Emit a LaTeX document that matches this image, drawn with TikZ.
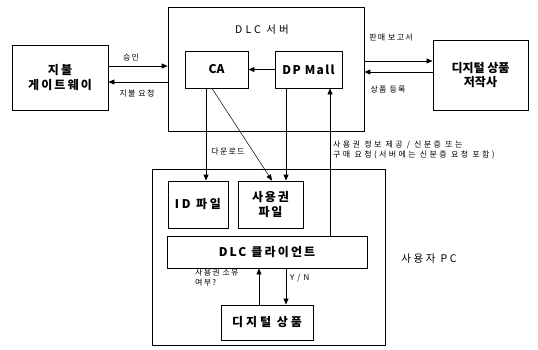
\documentclass[tikz,border=0pt]{standalone}
\usepackage{fontspec}
\setmainfont{Noto Sans CJK KR}
\usetikzlibrary{arrows.meta}
\newcommand{\lsp}[1]{\addfontfeature{LetterSpace=#1}}
\tikzset{
  box/.style={draw, line width=0.9pt, inner sep=0pt, align=center, font=\fontsize{12}{14.5}\selectfont\bfseries},
  frame/.style={draw, line width=0.7pt, inner sep=0pt},
  arr/.style={line width=0.8pt, -{Triangle[length=6pt,width=5pt]}},
  thinarr/.style={line width=0.5pt, -{Triangle[length=6pt,width=5pt]}},
  lbl/.style={inner sep=0pt, font=\fontsize{8}{10}\selectfont\lsp{15}},
}
\begin{document}
\begin{tikzpicture}[x=1pt,y=-1pt]
\useasboundingbox (0,0) rectangle (538,349);
% frames
\node[frame, minimum width=196, minimum height=124] (srv) at (266,69) {};
\node[frame, minimum width=233, minimum height=176] (pc) at (268.5,257) {};
\node[inner sep=0pt, font=\fontsize{10.5}{12}\selectfont\lsp{30}] (srvl) at (262,30) {DLC 서버};
\node[inner sep=0pt, font=\fontsize{10.5}{12}\selectfont\lsp{25}] (pcl) at (429,259) {사용자 PC};
% boxes
\node[box, minimum width=96, minimum height=65, font=\fontsize{12}{14.5}\selectfont\bfseries\lsp{18}] (gw) at (60,77.5) {지불\\게이트웨이};
\node[box, minimum width=63, minimum height=37] (ca) at (216.5,69.5) {CA};
\node[box, minimum width=67, minimum height=37, font=\fontsize{12}{14.5}\selectfont\bfseries\lsp{11}] (dp) at (308.5,69.5) {DP Mall};
\node[box, minimum width=95, minimum height=70] (au) at (480.5,75) {디지털 상품\\저작사};
\node[box, minimum width=60, minimum height=47, font=\fontsize{12}{14.5}\selectfont\bfseries\lsp{23}] (id) at (198,204.5) {ID 파일};
\node[box, minimum width=65, minimum height=47, font=\fontsize{12}{14.5}\selectfont\bfseries\lsp{16}] (lic) at (270.5,204.5) {사용권\\파일};
\node[box, minimum width=200, minimum height=32, font=\fontsize{12}{14.5}\selectfont\bfseries\lsp{18}] (cl) at (267,252) {DLC 클라이언트};
\node[box, minimum width=92, minimum height=35, font=\fontsize{12}{14.5}\selectfont\bfseries\lsp{25}] (pr) at (267,322.5) {디지털 상품};
% connectors
\draw[arr] (gw.east |- 0,66) -- (srv.west |- 0,66);
\draw[arr] (srv.west |- 0,82) -- (gw.east |- 0,82);
\draw[arr] (dp.west) -- (ca.east);
\draw[arr] (srv.east |- 0,61) -- (au.west |- 0,61);
\draw[arr] (au.west |- 0,72) -- (srv.east |- 0,72);
\draw[arr] (ca.south -| 206,0) -- (id.north -| 206,0);
\draw[thinarr] (ca.south -| 212,0) -- (lic.north -| 272,0);
\draw[arr] (dp.south -| 286,0) -- (lic.north -| 286,0);
\draw[thinarr] (cl.north -| 330,0) -- (dp.south -| 330,0);
\draw[thinarr] (pr.north -| 259,0) -- (cl.south -| 259,0);
\draw[thinarr] (cl.south -| 286,0) -- (pr.north -| 286,0);
% labels
\node[lbl] (l1) at (131,57) {승인};
\node[lbl] (l2) at (137,93) {지불 요청};
\node[lbl] (l3) at (391,38) {판매 보고서};
\node[lbl] (l4) at (388,89) {상품 등록};
\node[lbl] (l5) at (228,152) {다운로드};
\node[lbl, anchor=west, align=left, font=\fontsize{8}{10}\selectfont\lsp{30}] (l6) at (333,150) {사용권 정보 제공 / 신분증 또는\\구매 요청(서버에는 신분증 요청 포함)};
\node[lbl, anchor=west, align=left] (l7) at (195,278) {사용권 소유\\여부?};
\node[lbl, anchor=west] (l8) at (290,278) {Y / N};
\end{tikzpicture}
\end{document}
